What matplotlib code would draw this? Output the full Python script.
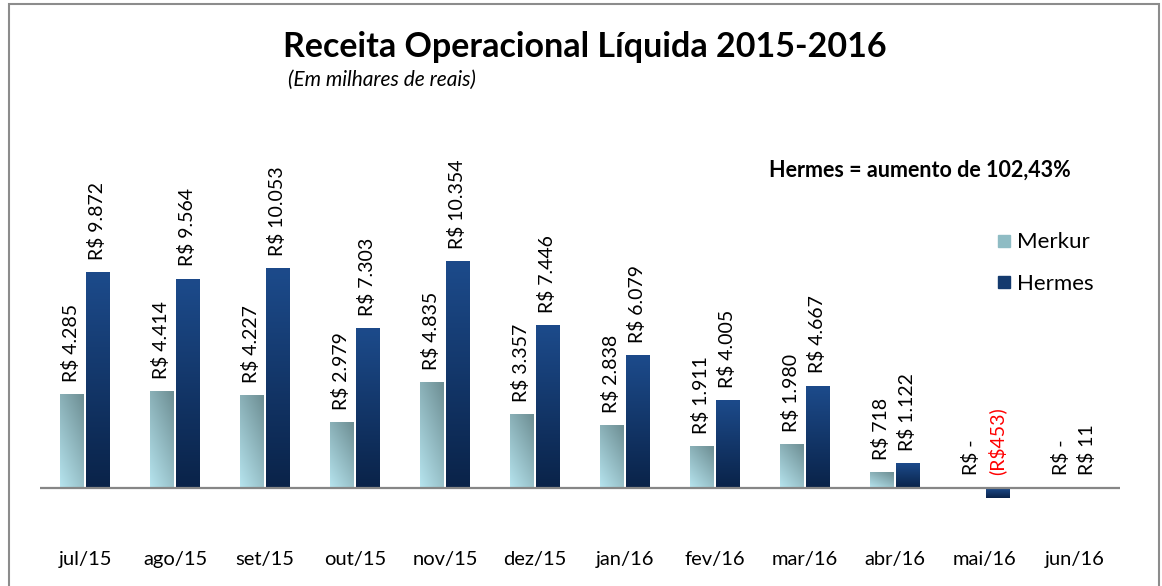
import numpy as np
import matplotlib.pyplot as plt
from matplotlib.patches import Rectangle
from matplotlib.lines import Line2D

plt.rcParams['font.family'] = ['Lato', 'DejaVu Sans']

meses = ['jul/15', 'ago/15', 'set/15', 'out/15', 'nov/15', 'dez/15',
         'jan/16', 'fev/16', 'mar/16', 'abr/16', 'mai/16', 'jun/16']
merkur = [4285, 4414, 4227, 2979, 4835, 3357, 2838, 1911, 1980, 718, 0, 0]
hermes = [9872, 9564, 10053, 7303, 10354, 7446, 6079, 4005, 4667, 1122, -453, 11]


def rotulo(v):
    if v == 0:
        return 'R$ -'
    if v < 0:
        return '(R${:,})'.format(-v).replace(',', '.')
    return 'R$ {:,}'.format(v).replace(',', '.')


fig = plt.figure(figsize=(11.62, 5.86), dpi=100)
ax = fig.add_axes([40 / 1162, 1 - 501 / 586, 1080 / 1162, 319 / 586])

x = np.arange(len(meses))
w = 0.265
b1 = ax.bar(x - w / 2 - 0.012, merkur, w, color='none', edgecolor='none')
b2 = ax.bar(x + w / 2 + 0.012, hermes, w, color='none', edgecolor='none')

# degrade nas barras
gm = np.zeros((20, 20, 3))
c_bl = np.array([0.71, 0.89, 0.93])
c_tr = np.array([0.43, 0.56, 0.58])
for i in range(20):
    for j in range(20):
        t = (i / 19 * 0.6 + j / 19 * 0.4)
        gm[i, j] = c_bl * (1 - t) + c_tr * t
gh = np.zeros((20, 1, 3))
c_top = np.array([0.11, 0.29, 0.54])
c_bot = np.array([0.04, 0.14, 0.29])
for i in range(20):
    t = i / 19
    gh[i, 0] = c_bot * (1 - t) + c_top * t

for bars, img in ((b1, gm), (b2, gh)):
    for r in bars:
        x0, y0 = r.get_x(), r.get_y()
        x1, y1 = x0 + r.get_width(), y0 + r.get_height()
        if r.get_height() == 0:
            continue
        ax.imshow(img, extent=[x0, x1, min(y0, y1), max(y0, y1)], origin='lower',
                  aspect='auto', zorder=2, interpolation='bilinear')

for bars, vals in ((b1, merkur), (b2, hermes)):
    for r, v in zip(bars, vals):
        cx = r.get_x() + r.get_width() / 2
        ax.annotate(rotulo(v), (cx, max(v, 0)), xytext=(-1, 9), textcoords='offset points',
                    rotation=90, ha='center', va='bottom', fontsize=14,
                    color='red' if v < 0 else 'black', annotation_clip=False)

ax.axhline(0, color='#868686', lw=1.6, zorder=4)
ax.set_xlim(-0.5, len(meses) - 0.5)
ax.set_ylim(-600, 14000)
ax.set_xticks(x)
ax.set_xticklabels(meses, fontsize=14.5)
ax.tick_params(axis='x', length=0, pad=36)
ax.set_yticks([])
for s in ax.spines.values():
    s.set_visible(False)

fig.text(585 / 1162, 1 - 47 / 586, 'Receita Operacional Líquida 2015-2016',
         ha='center', va='center', fontsize=24.5, fontweight='bold')
fig.text(288 / 1162, 1 - 80 / 586, '(Em milhares de reais)', ha='left', va='center',
         fontsize=15, style='italic')
fig.text(920 / 1162, 1 - 170 / 586, 'Hermes = aumento de 102,43%', ha='center',
         va='center', fontsize=15.5, fontweight='bold')

handles = [Line2D([], [], ls='none', marker='s', ms=8, mfc='#8fbcc4', mec='#8fbcc4'),
           Line2D([], [], ls='none', marker='s', ms=8, mfc='#143a6e', mec='#143a6e')]
fig.legend(handles, ['Merkur', 'Hermes'], loc='center left',
           bbox_to_anchor=(976 / 1162, 1 - 263 / 586), frameon=False, fontsize=16,
           handlelength=0.7, handletextpad=0.25, labelspacing=0.95)

fig.patches.append(Rectangle((9 / 1162, -0.05), 1150 / 1162, 1.05 - 4 / 586,
                             transform=fig.transFigure, fill=False,
                             edgecolor='#8c8c8c', lw=1.5))

fig.savefig('out.png', dpi=100)
